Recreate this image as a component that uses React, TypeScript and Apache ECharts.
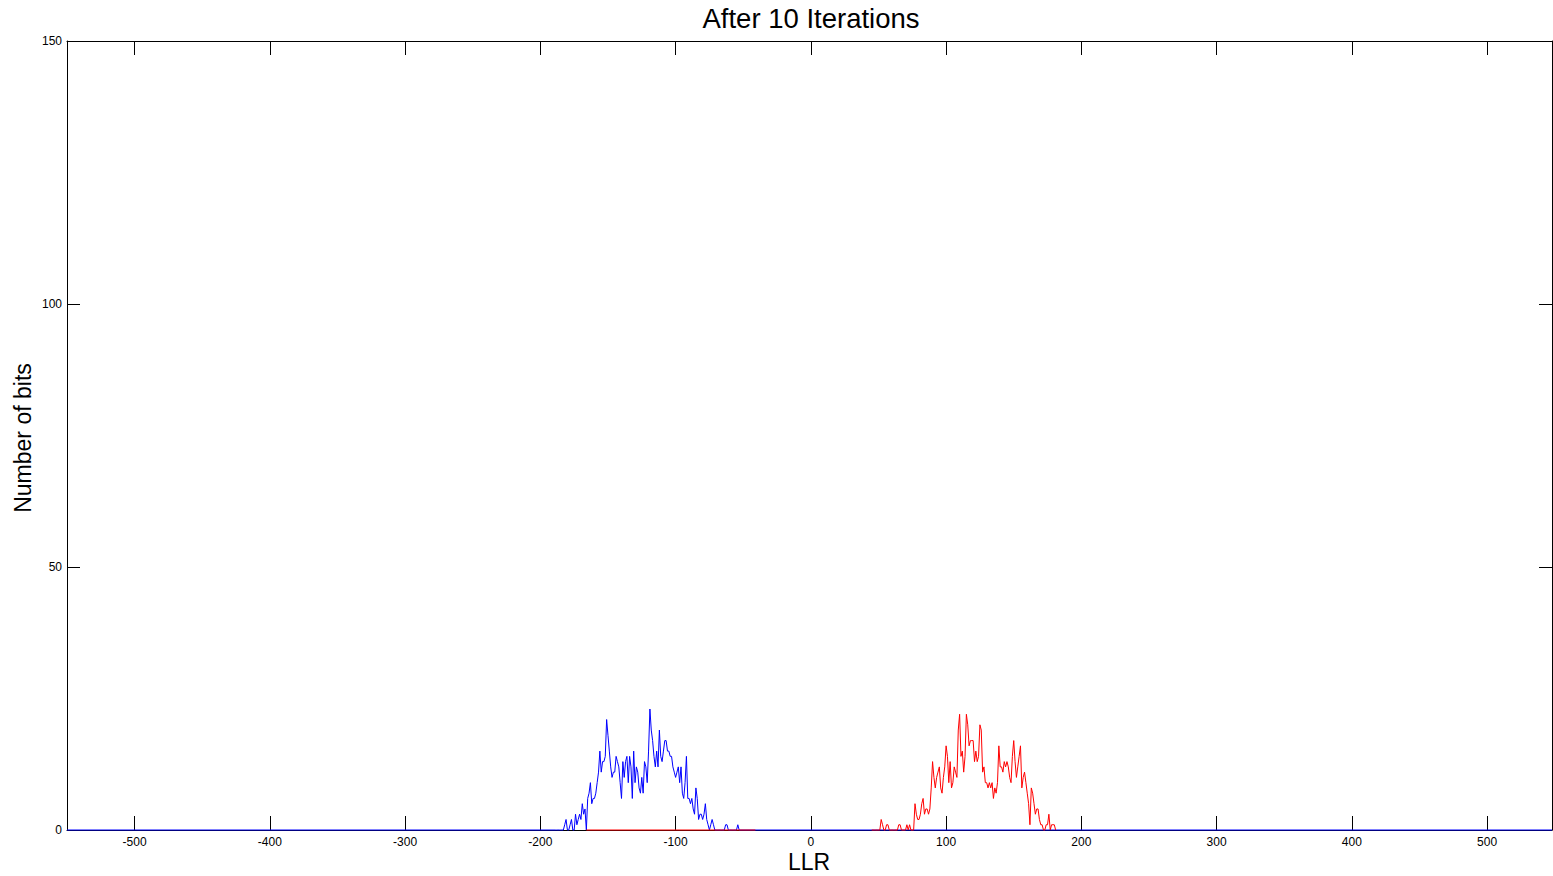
import React, { useEffect, useRef } from "react";
import * as echarts from "echarts";

const titleText = "After 10 Iterations";
const xLabel = "LLR";
const yLabel = "Number of bits";

const xMin = -550;
const xMax = 548;
const xTicks = [-500, -400, -300, -200, -100, 0, 100, 200, 300, 400, 500];
const yTicks = [0, 50, 100, 150];

// Blue histogram counts, one bin per LLR unit, starting at blueStart
const blueStart = -189;
const blueCounts = [
  0, 0, 0, 0, 0, 0, 0,
  1, 2, 0, 0, 1, 2, 0, 0, 3, 1, 2, 3, 2, 5, 3, 4, 0, 6, 7, 9, 5, 6, 6, 7, 9, 11,
  15, 11, 13, 13, 14, 21, 18, 15, 12, 10, 11, 11, 14, 13, 12, 9, 6, 13, 10, 13,
  14, 9, 14, 12, 6, 15, 9, 12, 11, 8, 7, 10, 7, 13, 12, 9, 15, 23, 19, 17, 14,
  12, 15, 12, 19, 14, 13, 15, 17, 17, 15, 15, 14, 14, 12, 11, 10, 11, 12, 9, 12,
  7, 6, 9, 14, 6, 6, 5, 6, 4, 3, 8, 6, 2, 3, 3, 2, 3, 5, 2, 1, 0, 1, 2, 1,
  0, 0, 0, 0, 0, 0, 0, 0, 1, 1, 0, 0, 0, 0, 0, 0, 0, 1, 0,
];

// Red histogram counts, starting at redStart
const redStart = 45;
const redCounts = [
  0, 0, 0, 0, 0, 0, 0,
  2, 1, 0, 0, 1, 1, 0, 0, 0, 0, 0, 0, 0, 1, 1, 0, 0, 0, 0, 1, 0, 1, 0, 0, 0,
  5, 3, 2, 2, 3, 5, 6, 3, 4, 4, 3, 4, 8, 13, 10, 8, 10, 11, 12, 8, 7, 10, 12,
  16, 14, 9, 13, 8, 9, 12, 11, 10, 19, 22, 14, 15, 11, 14, 22, 20, 16, 17, 17,
  17, 13, 15, 13, 14, 20, 19, 11, 12, 9, 9, 8, 9, 8, 9, 6, 8, 7, 9, 16, 12, 12,
  11, 13, 12, 13, 12, 10, 9, 14, 17, 13, 10, 12, 14, 16, 8, 10, 11, 9, 7, 5, 1,
  8, 7, 5, 3, 4, 4, 2, 1, 1, 0, 0, 1, 1, 3, 0, 1, 1, 1, 0,
];

// Red zero-level segment visible on the baseline
const redFloorRange = [-166, -41];

export default function App() {
  const ref = useRef<HTMLDivElement>(null);

  useEffect(() => {
    document.body.style.margin = "0";
    if (!ref.current) return;
    const chart = echarts.init(ref.current, undefined, { renderer: "svg" });

    const blueData: number[][] = [[xMin, 0]];
    blueCounts.forEach((v, i) => blueData.push([blueStart + i, v]));
    blueData.push([xMax, 0]);

    const redData: number[][] = redCounts.map((v, i) => [redStart + i, v]);
    const redFloor: number[][] = redFloorRange.map((x) => [x, 0]);

    const font = "'Liberation Sans', Arial, sans-serif";
    const tickLabel = { color: "#000", fontSize: 12, fontFamily: font };
    const axisLine = { show: true, onZero: false, lineStyle: { color: "#000", width: 1 } };

    chart.setOption({
      animation: false,
      backgroundColor: "#fff",
      grid: { left: 67, right: 1, top: 41, bottom: 46, containLabel: false, outerBoundsMode: "none" },
      xAxis: [
        {
          type: "value",
          min: xMin,
          max: xMax,
          position: "bottom",
          axisLine,
          axisTick: { show: true, inside: true, length: 14, customValues: xTicks, lineStyle: { color: "#000" } },
          axisLabel: { ...tickLabel, margin: 6, customValues: xTicks },
          splitLine: { show: false },
        },
        {
          type: "value",
          min: xMin,
          max: xMax,
          position: "top",
          axisLine,
          axisTick: { show: true, inside: true, length: 14, customValues: xTicks, lineStyle: { color: "#000" } },
          axisLabel: { show: false },
          splitLine: { show: false },
        },
      ],
      yAxis: [
        {
          type: "value",
          min: 0,
          max: 150,
          interval: 50,
          position: "left",
          axisLine,
          axisTick: { show: true, inside: true, length: 13, customValues: yTicks, lineStyle: { color: "#000" } },
          axisLabel: { ...tickLabel, margin: 5, customValues: yTicks },
          splitLine: { show: false },
        },
        {
          type: "value",
          min: 0,
          max: 150,
          interval: 50,
          position: "right",
          axisLine,
          axisTick: { show: true, inside: true, length: 13, customValues: yTicks, lineStyle: { color: "#000" } },
          axisLabel: { show: false },
          splitLine: { show: false },
        },
      ],
      graphic: [
        {
          type: "text",
          x: 811,
          y: 18,
          style: {
            text: titleText,
            fontSize: 27.5,
            fontFamily: font,
            fill: "#000",
            textAlign: "center",
            textVerticalAlign: "middle",
          },
        },
        {
          type: "text",
          x: 809,
          y: 862,
          style: {
            text: xLabel,
            fontSize: 23,
            fontFamily: font,
            fill: "#000",
            textAlign: "center",
            textVerticalAlign: "middle",
          },
        },
        {
          type: "text",
          x: 23,
          y: 438,
          rotation: Math.PI / 2,
          style: {
            text: yLabel,
            fontSize: 23,
            fontFamily: font,
            fill: "#000",
            textAlign: "center",
            textVerticalAlign: "middle",
          },
        },
      ],
      series: [
        {
          type: "line",
          name: "blue",
          data: blueData,
          showSymbol: false,
          clip: false,
          lineStyle: { color: "#0000ff", width: 1 },
          itemStyle: { color: "#0000ff" },
        },
        {
          type: "line",
          name: "redFloor",
          data: redFloor,
          showSymbol: false,
          clip: false,
          lineStyle: { color: "#ff0000", width: 1 },
          itemStyle: { color: "#ff0000" },
        },
        {
          type: "line",
          name: "red",
          data: redData,
          showSymbol: false,
          clip: false,
          lineStyle: { color: "#ff0000", width: 1 },
          itemStyle: { color: "#ff0000" },
        },
      ],
    });

    return () => chart.dispose();
  }, []);

  return <div ref={ref} style={{ width: 1553, height: 876 }} />;
}
